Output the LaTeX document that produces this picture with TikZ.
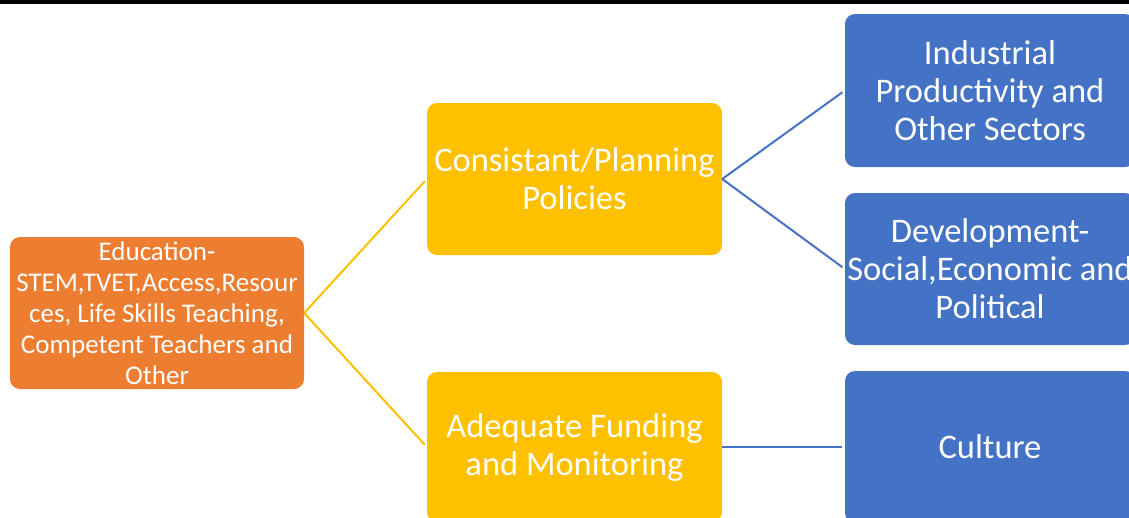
\documentclass[tikz,border=0pt]{standalone}
\usepackage{fontspec}
\setmainfont{Carlito}
\definecolor{eduorange}{HTML}{ED7D31}
\definecolor{polyellow}{HTML}{FFC000}
\definecolor{outblue}{HTML}{4472C4}
\tikzset{
    box/.style={rounded corners=10pt, text=white, align=center, inner sep=0pt,
        minimum width=295pt, minimum height=152pt,
        font=\fontsize{34.5}{38}\selectfont},
    link/.style={line width=2pt, shorten >=3pt},
}
\begin{document}
\begin{tikzpicture}[x=1pt,y=-1pt]
            \useasboundingbox (0,0) rectangle (1129,517);
            \clip (0,0) rectangle (1129,517);
            \fill[black] (0,0) rectangle (1129,4);
            \node[box, fill=eduorange, minimum width=294pt, font=\fontsize{27}{31}\selectfont] (educ) at (157,313)
                {Education-\\STEM,TVET,Access,Resour\\ces, Life Skills Teaching,\\Competent Teachers and\\Other};
            \node[box, fill=polyellow] (plan) at (574.5,179) {Consistant/Planning\\Policies};
            \node[box, fill=polyellow, minimum height=150pt] (fund) at (574.5,447) {Adequate Funding\\and Monitoring};
            \node[box, fill=outblue, minimum width=290pt, minimum height=153pt] (indus) at (990,90.5)
                {Industrial\\Productivity and\\Other Sectors};
            \node[box, fill=outblue, minimum width=290pt] (devel) at (990,269)
                {Development-\\Social,Economic and\\Political};
            \node[box, fill=outblue, minimum width=290pt] (cult) at (990,447) {Culture};
            \draw[link, polyellow] (educ.east) -- (plan.west);
            \draw[link, polyellow] (educ.east) -- (fund.west);
            \draw[link, outblue] (plan.east) -- (indus.west);
            \draw[link, outblue] (plan.east) -- (devel.west);
            \draw[link, outblue] (fund.east) -- (cult.west);
        \end{tikzpicture}
\end{document}
